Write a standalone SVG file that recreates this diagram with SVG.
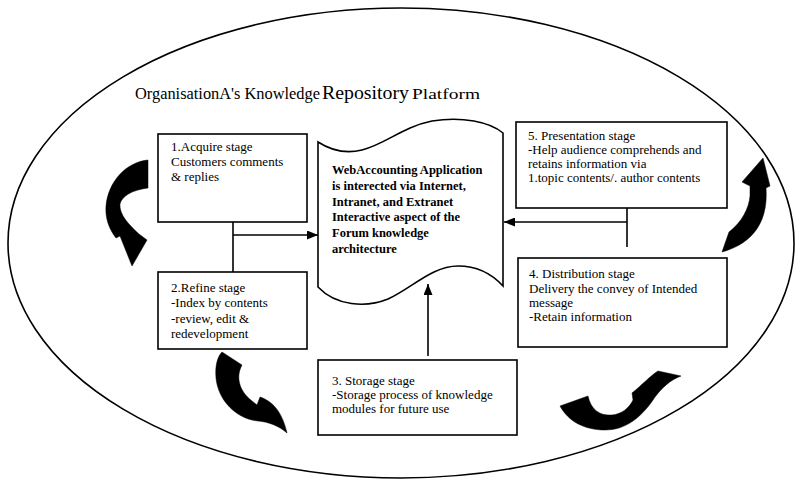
<svg xmlns="http://www.w3.org/2000/svg" width="799" height="481" viewBox="0 0 799 481">
<defs>
<style>
.box{fill:#fff;stroke:#000;stroke-width:1.6}
.t{font-family:"Liberation Serif","Times New Roman",serif;font-size:13px;fill:#000}
.d{font-family:"Liberation Serif","Times New Roman",serif;font-size:12.5px;font-weight:bold;fill:#000}
.ttl{font-family:"Liberation Serif","Times New Roman",serif;fill:#000}
.ln{fill:none;stroke:#000;stroke-width:1.6}
.cv{fill:#000;stroke:#000;stroke-width:0.5}
</style>
<marker id="ah" markerWidth="11" markerHeight="9" refX="11" refY="4.5" orient="auto" markerUnits="userSpaceOnUse">
<path d="M0,0 L11,4.5 L0,9 Z" fill="#000"/>
</marker>
</defs>
<rect width="799" height="481" fill="#fff"/>

<g id="platform">
<ellipse cx="401" cy="243" rx="393" ry="235" fill="none" stroke="#000" stroke-width="1.6"/>
<text class="ttl" y="99"><tspan x="135" font-size="16" textLength="185" lengthAdjust="spacingAndGlyphs">OrganisationA's Knowledge</tspan><tspan x="322" font-size="18" textLength="87" lengthAdjust="spacingAndGlyphs">Repository</tspan><tspan x="412" font-size="15" textLength="68" lengthAdjust="spacingAndGlyphs">Platform</tspan></text>
</g>

<g id="connectors">
<path class="ln" d="M233,208 L233,272"/>
<path class="ln" d="M233,235 L318,235" marker-end="url(#ah)"/>
<path class="ln" d="M627,208 L627,247"/>
<path class="ln" d="M627,222 L504,222" marker-end="url(#ah)"/>
<path class="ln" d="M428,356 L428,284" marker-end="url(#ah)"/>
<path class="cv" d="M148,160 C126,162 108,182 106,206 C105,220 110,230 116,238 L120,236 L132,266 L147,240 L139,234 C128,224 119,214 120,204 C122,196 132,190 148,188 Z"/>
<path class="cv" d="M222,352 L242,365 C236,376 238,390 252,401 L257,405 L260,397 C272,401 282,411 287,433 C279,426 269,422 258,421 C236,419 218,400 216,378 C215,367 217,357 222,352 Z"/>
<path class="cv" d="M560,406 L588,396 C591,410 600,416 612,415 C622,414 629,408 633,400 L632,393 C642,385 650,376 658,371 L681,376 C670,380 662,388 655,397 C642,417 626,430 605,430 C584,430 568,421 560,406 Z"/>
<path class="cv" d="M722,252 L729,232 C742,222 749,208 750,196 L750,186 L742,182 L763,158 L770,186 L766,188 C768,216 758,242 722,252 Z"/>
</g>

<g id="acquire">
<rect class="box" x="158" y="134" width="149" height="88"/>
<text class="t" x="171" y="151">1.Acquire stage</text>
<text class="t" x="171" y="166">Customers comments</text>
<text class="t" x="171" y="181">&amp; replies</text>
</g>

<g id="refine">
<rect class="box" x="158" y="272" width="149" height="77"/>
<text class="t" x="171" y="292">2.Refine stage</text>
<text class="t" x="171" y="307">-Index by contents</text>
<text class="t" x="171" y="323">-review, edit &amp;</text>
<text class="t" x="171" y="338">redevelopment</text>
</g>

<g id="application">
<path d="M318,287 L318,142 C332,151 346,154 362,150 C386,144 402,127 432,121 C462,116 490,122 503,133 L503,286 C492,274 478,266 458,266 C432,266 412,288 388,299 C366,308 336,306 318,287 Z" fill="#fff" stroke="#000" stroke-width="1.6"/>
<text class="d" x="332" y="174">WebAccounting Application</text>
<text class="d" x="332" y="190">is interected via Internet,</text>
<text class="d" x="332" y="206">Intranet, and Extranet</text>
<text class="d" x="332" y="221">Interactive aspect of the</text>
<text class="d" x="332" y="237">Forum knowledge</text>
<text class="d" x="332" y="253">architecture</text>
</g>

<g id="storage">
<rect class="box" x="318" y="360" width="199" height="75"/>
<text class="t" x="332" y="385">3. Storage stage</text>
<text class="t" x="332" y="399">-Storage process of knowledge</text>
<text class="t" x="332" y="413">modules for future use</text>
</g>

<g id="distribution">
<rect class="box" x="518" y="258" width="209" height="89"/>
<text class="t" x="529" y="278">4. Distribution stage</text>
<text class="t" x="529" y="293">Delivery the convey of Intended</text>
<text class="t" x="529" y="307">message</text>
<text class="t" x="529" y="321">-Retain information</text>
</g>

<g id="presentation">
<rect class="box" x="516" y="122" width="211" height="86"/>
<text class="t" x="528" y="140">5. Presentation stage</text>
<text class="t" x="528" y="154">-Help audience comprehends and</text>
<text class="t" x="528" y="168">retains information via</text>
<text class="t" x="528" y="182">1.topic contents/. author contents</text>
</g>
</svg>
